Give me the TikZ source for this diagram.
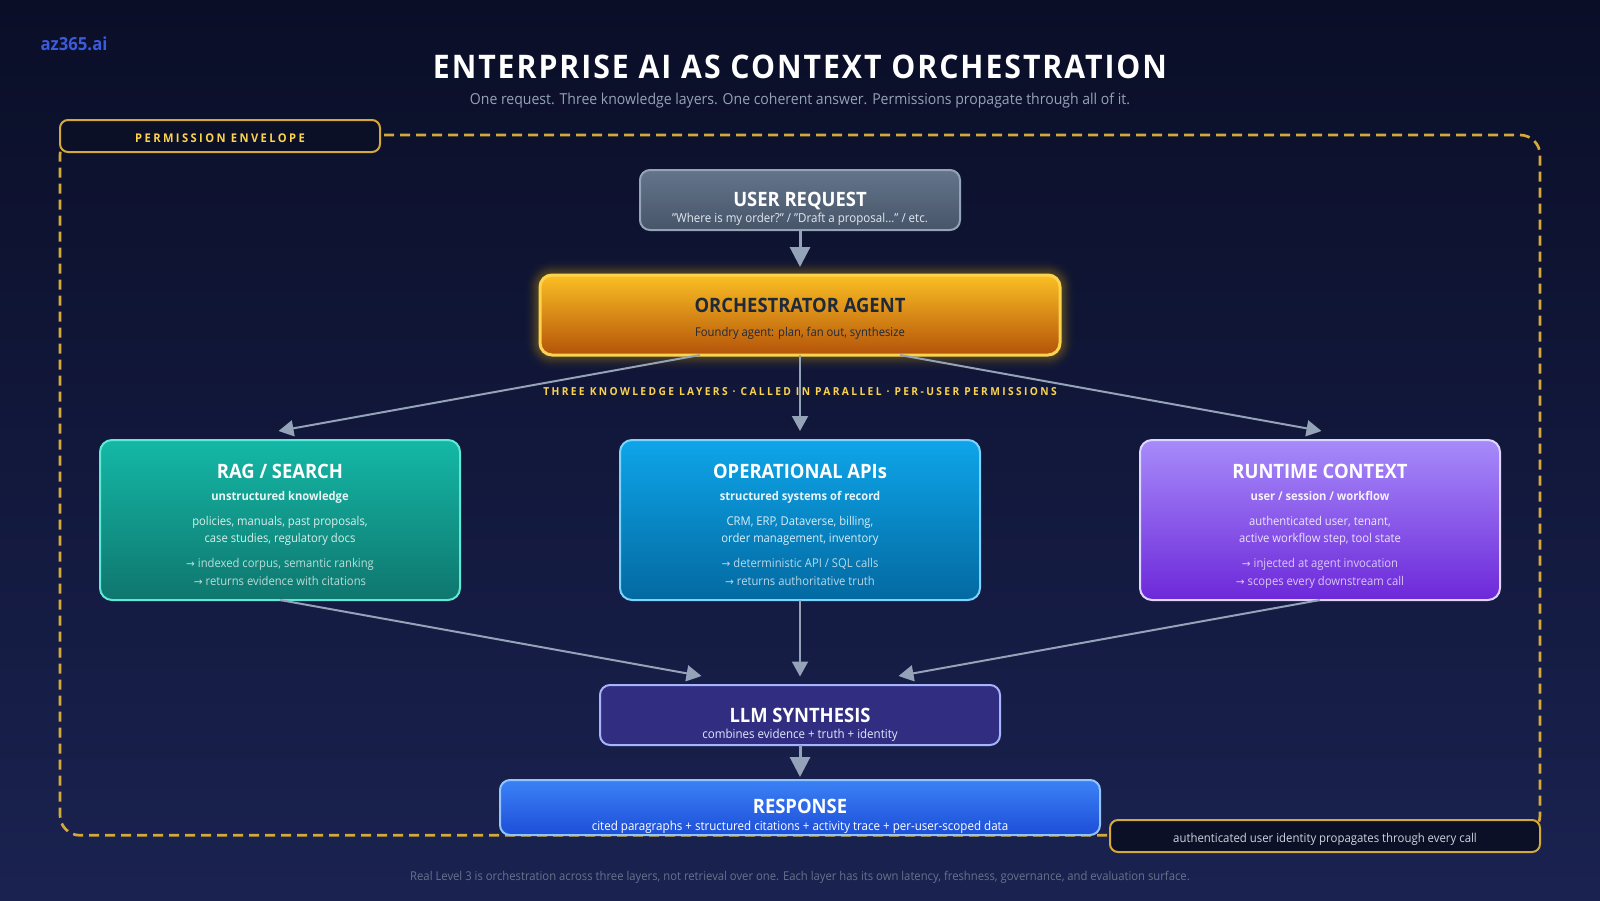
\documentclass[tikz,border=0pt]{standalone}
\usepackage{fontspec}
\usetikzlibrary{arrows.meta,calc}
\setmainfont[FakeStretch=0.93]{Open Sans}
\newfontfamily\arrowfont{DejaVu Sans}
\definecolor{bgtop}{HTML}{0A0E27}
\definecolor{bgbot}{HTML}{1A2250}
\definecolor{badgefill}{HTML}{0B1026}
\definecolor{gold}{HTML}{D4A93A}
\definecolor{goldtxt}{HTML}{FCD34D}
\definecolor{conn}{HTML}{94A3B8}
\definecolor{brandc}{HTML}{3B5BDB}
\definecolor{glowc}{HTML}{FBBF24}
\definecolor{userE}{HTML}{94A3B8}\definecolor{userA}{HTML}{64748B}\definecolor{userB}{HTML}{475569}
\definecolor{orchE}{HTML}{FCD34D}\definecolor{orchA}{HTML}{FBBF24}\definecolor{orchB}{HTML}{B45309}
\definecolor{ragE}{HTML}{5EEAD4}\definecolor{ragA}{HTML}{14B8A6}\definecolor{ragB}{HTML}{0F766E}
\definecolor{opsE}{HTML}{7DD3FC}\definecolor{opsA}{HTML}{0EA5E9}\definecolor{opsB}{HTML}{0369A1}
\definecolor{runE}{HTML}{DDD6FE}\definecolor{runA}{HTML}{A78BFA}\definecolor{runB}{HTML}{6D28D9}
\definecolor{llmE}{HTML}{A5B4FC}\definecolor{llmF}{HTML}{312E81}
\definecolor{respE}{HTML}{93C5FD}\definecolor{respA}{HTML}{3B82F6}\definecolor{respB}{HTML}{1D4ED8}
\definecolor{darkt}{HTML}{1E293B}
\definecolor{usersub}{HTML}{E2E8F0}
\definecolor{llmsub}{HTML}{E0E7FF}
\definecolor{idtxt}{HTML}{CBD5E1}
\definecolor{foottxt}{HTML}{64748B}
\newcommand{\fs}[1]{\fontsize{#1}{#1}\selectfont}
\newcommand{\arr}{{\arrowfont\fontsize{10.5}{10.5}\selectfont →}}
\tikzset{
  x=1pt,y=-1pt,
  every node/.style={inner sep=0pt,outer sep=0pt},
  txt/.style={anchor=base,align=center,text=white},
  boxnode/.style={rectangle,rounded corners=#1,line width=2pt,anchor=center},
  badge/.style={rectangle,rounded corners=8pt,line width=2pt,draw=gold,fill=badgefill,anchor=center},
  ttl/.style={txt,font=\fs{19.8}\bfseries},
  subl/.style={txt,font=\fs{12}\bfseries,text opacity=.9},
  descl/.style={txt,font=\fs{12.1},text opacity=.85},
  noteln/.style={txt,font=\fs{12.1},text opacity=.72},
  linkthin/.style={draw=conn,line width=2pt,-{Triangle[length=15pt,width=16pt]}},
  linkfat/.style={draw=conn,line width=3pt,-{Triangle[length=20pt,width=20pt]}},
}
\begin{document}
\begin{tikzpicture}
\useasboundingbox (0,0) rectangle (1600,900);
\fill[top color=bgtop,bottom color=bgbot] (0,0) rectangle (1600,900);

% envelope
\draw[gold,line width=2.7pt,rounded corners=20pt,dash pattern=on 10pt off 6pt]
  (80,135) -- (1540,135) -- (1540,835.3) -- (60,835.3) -- (60,135) -- (80,135);

% header
\node[txt,text=brandc,font=\fs{18}\bfseries] (brand) at (74,50.5) {az365.ai};
\node[txt,font=\fs{32.5}\bfseries\addfontfeature{LetterSpace=6}] (title) at (800,78) {ENTERPRISE AI AS CONTEXT ORCHESTRATION};
\node[txt,text=conn,font=\fs{15.1}] (subtitle) at (800,104) {One request. Three knowledge layers. One coherent answer. Permissions propagate through all of it.};

% badges
\node[badge,minimum width=320pt,minimum height=32pt] (envbadge) at (220,136) {};
\node[txt,text=goldtxt,font=\fs{12}\bfseries\addfontfeature{LetterSpace=20}] (envtext) at (220,142) {PERMISSION ENVELOPE};

% glow
\foreach \g [evaluate=\g as \op using {0.006+0.0028*(15-\g)}] in {1,...,15}{
  \fill[glowc,opacity=\op,rounded corners=12pt+\g pt]
    (540-\g,275-\g) rectangle (1060+\g,355+\g);
}

% boxes
\node[boxnode=10pt,minimum width=320pt,minimum height=60pt,draw=userE,top color=userA,bottom color=userB] (user) at (800,200) {};
\node[boxnode=12pt,line width=3pt,minimum width=520pt,minimum height=80pt,draw=orchE,top color=orchA,bottom color=orchB] (orch) at (800,315) {};
\node[boxnode=12pt,minimum width=360pt,minimum height=160pt,draw=ragE,top color=ragA,bottom color=ragB] (rag) at (280,520) {};
\node[boxnode=12pt,minimum width=360pt,minimum height=160pt,draw=opsE,top color=opsA,bottom color=opsB] (ops) at (800,520) {};
\node[boxnode=12pt,minimum width=360pt,minimum height=160pt,draw=runE,top color=runA,bottom color=runB] (run) at (1320,520) {};
\node[boxnode=10pt,minimum width=400pt,minimum height=60pt,draw=llmE,fill=llmF] (llm) at (800,715) {};
\node[boxnode=10pt,minimum width=600pt,minimum height=55pt,draw=respE,top color=respA,bottom color=respB] (resp) at (800,807.5) {};
\node[badge,minimum width=430pt,minimum height=32pt] (idbadge) at (1325,836) {};

% connectors
\draw[linkfat,shorten >=8pt] (user.south) -- (orch.north);
\draw[linkthin] ($(orch.south)+(-100,0)$) -- ($(rag.north)+(-1.5,-9)$);
\draw[linkthin] (orch.south) -- ($(ops.north)+(0,-9)$);
\draw[linkthin] ($(orch.south)+(100,0)$) -- ($(run.north)+(1.5,-9)$);
\draw[linkthin] (rag.south) -- ($(llm.north)+(-98.5,-9)$);
\draw[linkthin] (ops.south) -- ($(llm.north)+(0,-8.5)$);
\draw[linkthin] (run.south) -- ($(llm.north)+(98.5,-9)$);
\draw[linkfat,shorten >=3pt] (llm.south) -- (resp.north);

% box text
\node[ttl] (userT) at (800,206.3) {USER REQUEST};
\node[txt,text=usersub,font=\fs{12.4}] (userS) at (800,222) {"Where is my order?" / "Draft a proposal..." / etc.};
\node[txt,text=darkt,font=\fs{19.8}\bfseries] (orchT) at (800,312.8) {ORCHESTRATOR AGENT};
\node[txt,text=darkt,font=\fs{12.1}] (orchS) at (800,336) {Foundry agent: plan, fan out, synthesize};
\node[txt,text=goldtxt,font=\fs{11}\bfseries\addfontfeature{LetterSpace=21.6}] (layers) at (800,395) {THREE KNOWLEDGE LAYERS · CALLED IN PARALLEL · PER-USER PERMISSIONS};

\node[ttl] (ragT) at (280,478.8) {RAG / SEARCH};
\node[subl] (ragS) at (280,500) {unstructured knowledge};
\node[descl] (ragD1) at (280,525) {policies, manuals, past proposals,};
\node[descl] (ragD2) at (280,542) {case studies, regulatory docs};
\node[noteln] (ragN1) at (280,567) {\arr{} indexed corpus, semantic ranking};
\node[noteln] (ragN2) at (280,585) {\arr{} returns evidence with citations};

\node[ttl] (opsT) at (800,478.8) {OPERATIONAL APIs};
\node[subl] (opsS) at (800,500) {structured systems of record};
\node[descl] (opsD1) at (800,525) {CRM, ERP, Dataverse, billing,};
\node[descl] (opsD2) at (800,542) {order management, inventory};
\node[noteln] (opsN1) at (800,567) {\arr{} deterministic API / SQL calls};
\node[noteln] (opsN2) at (800,585) {\arr{} returns authoritative truth};

\node[ttl] (runT) at (1320,478.8) {RUNTIME CONTEXT};
\node[subl] (runS) at (1320,500) {user / session / workflow};
\node[descl] (runD1) at (1320,525) {authenticated user, tenant,};
\node[descl] (runD2) at (1320,542) {active workflow step, tool state};
\node[noteln] (runN1) at (1320,567) {\arr{} injected at agent invocation};
\node[noteln] (runN2) at (1320,585) {\arr{} scopes every downstream call};

\node[ttl] (llmT) at (800,722.9) {LLM SYNTHESIS};
\node[txt,text=llmsub,font=\fs{12.4}] (llmS) at (800,738) {combines evidence + truth + identity};
\node[ttl] (respT) at (800,813.9) {RESPONSE};
\node[txt,font=\fs{12.45}] (respS) at (800,830) {cited paragraphs + structured citations + activity trace + per-user-scoped data};
\node[txt,text=idtxt,font=\fs{12.25}] (idT) at (1325,842) {authenticated user identity propagates through every call};
\node[txt,text=foottxt,font=\fs{12.13}] (foot) at (800,880) {Real Level 3 is orchestration across three layers, not retrieval over one. Each layer has its own latency, freshness, governance, and evaluation surface.};
\end{tikzpicture}
\end{document}
